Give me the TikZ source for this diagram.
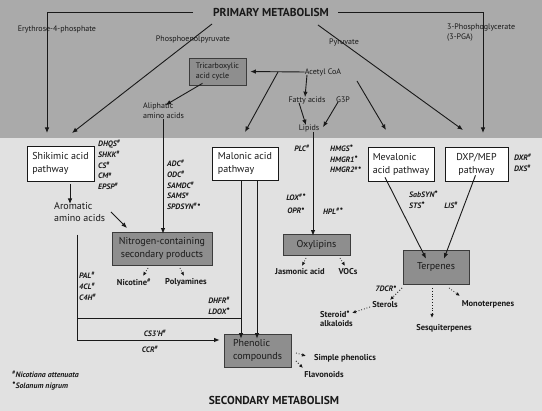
\documentclass[tikz,border=0pt]{standalone}
\usepackage{fontspec}
\setmainfont{PT Sans}
\usetikzlibrary{arrows.meta}
\definecolor{topbg}{RGB}{170,170,170}
\definecolor{lowbg}{RGB}{225,225,225}
\definecolor{boxg}{RGB}{142,142,142}
\definecolor{ink}{RGB}{25,25,25}
\newcommand\hs{\textsuperscript{\#}}
\newcommand\bl{\raisebox{2.6pt}{\fontsize{7.5}{7.5}\selectfont\textbullet}}
\newcommand\sn{\bl}
\newcommand\hsn{\textsuperscript{\#}\bl}
\begin{document}
\begin{tikzpicture}[x=1pt,y=-1pt,
  arr/.style={draw=ink,line width=0.9pt,-{Latex[length=5.5pt,width=4.5pt]}},
  ln/.style={draw=ink,line width=0.9pt},
  dotarr/.style={draw=ink,line width=0.8pt,dotted,-{Latex[length=4pt,width=3.5pt]}},
  lbl/.style={font=\fontsize{8}{9.5}\selectfont,inner sep=0pt,align=left,text=ink},
  biglbl/.style={font=\fontsize{10}{12}\selectfont,inner sep=0pt,align=left,text=ink},
  enz/.style={font=\bfseries\itshape\fontsize{7.8}{10.8}\selectfont,inner sep=0pt,align=left,text=ink},
  prod/.style={font=\bfseries\fontsize{8.5}{9.5}\selectfont,inner sep=0pt,align=left,text=ink},
  titl/.style={font=\bfseries\fontsize{11.5}{13}\selectfont,inner sep=0pt,text=ink},
  wbox/.style={draw=ink,line width=0.7pt,fill=white,font=\fontsize{10}{13}\selectfont,align=left,inner xsep=3pt,inner ysep=0pt,text=ink},
  gbox/.style={draw=ink!85,line width=0.7pt,fill=boxg,font=\fontsize{10}{13}\selectfont,align=center,inner xsep=3pt,inner ysep=0pt,text=ink},
]
\useasboundingbox (0,0) rectangle (542,411);
\fill[lowbg] (0,0) rectangle (542,411);
\fill[topbg] (0,0) rectangle (542,138);

% titles
\node[titl] (pm) at (271,12) {PRIMARY METABOLISM};
\node[titl] (sm) at (274,400) {SECONDARY METABOLISM};

% boxes
\node[wbox,minimum width=67pt,minimum height=35pt] (shik) at (60.5,163.5) {Shikimic acid\\pathway};
\node[wbox,minimum width=66pt,minimum height=33pt] (mal) at (245,163.5) {Malonic acid\\pathway};
\node[wbox,minimum width=66pt,minimum height=34pt] (mev) at (401,164) {Mevalonic\\acid pathway};
\node[wbox,minimum width=63pt,minimum height=34pt,align=center] (dxp) at (476.5,164) {DXP/MEP\\pathway};
\node[gbox,minimum width=57pt,minimum height=27pt,align=left,font=\fontsize{8}{10}\selectfont] (tca) at (217.5,71.5) {Tricarboxylic\\acid cycle};
\node[gbox,minimum width=100pt,minimum height=33pt] (nit) at (162,248.5) {Nitrogen-containing\\secondary products};
\node[gbox,minimum width=67pt,minimum height=21pt] (oxy) at (316.5,244.5) {Oxylipins};
\node[gbox,minimum width=66pt,minimum height=34pt] (terp) at (436,267) {Terpenes};
\node[gbox,minimum width=67pt,minimum height=33pt,align=left] (phen) at (257.5,350.5) {Phenolic\\compounds};

% primary labels
\node[lbl] (e4p) at (57,29) {Erythrose-4-phosphate};
\node[lbl] (pgaL) [anchor=north west] at (447,24) {3-Phosphoglycerate\\(3-PGA)};
\node[lbl] (acoa) at (323,72) {Acetyl CoA};
\node[lbl] (fa) at (307,100) {Fatty acids};
\node[lbl] (g3p) at (343,100) {G3P};
\node[lbl] (lip) at (309,128) {Lipids};
\node[lbl] (aliph) [anchor=north west] at (143,103) {Aliphatic\\amino acids};
\node[biglbl] (arom) [anchor=north west] at (54,202) {Aromatic\\amino acids};

% coordinates for free ends
\coordinate (e4pA) at (193,12);
\coordinate (e4pB) at (47,133);
\coordinate (pgaA) at (338,12);
\coordinate (pgaB) at (483,133);
\coordinate (pepA) at (212,24);
\coordinate (pepB) at (72,133);
\coordinate (pyrA) at (318,25);
\coordinate (pyrB) at (463,130);
\coordinate (malA) at (278,72);
\coordinate (malB) at (245,132);
\coordinate (mevA) at (357,81);
\coordinate (mevB) at (386,130);

\draw[arr] (e4pA) -| (e4pB);
\draw[arr] (pgaA) -| (pgaB);
\draw[arr] (pepA) -- (pepB);
\draw[arr] (pyrA) -- (pyrB);
\node[lbl] (pep) at (193,39) {Phosphoenolpyruvate};
\node[lbl] (pyr) at (344,42) {Pyruvate};

\draw[arr,shorten >=4pt] (acoa.west) -- (tca.east);
\draw[arr] (malA) -- (malB);
\draw[arr] ([xshift=-15pt,yshift=2pt]tca.south) -- ([xshift=2pt,yshift=-2pt]aliph.north);
\draw[arr] ([xshift=-16pt,yshift=1pt]acoa.south) -- ([xshift=-2pt,yshift=-1pt]fa.north);
\draw[arr] ([xshift=-8pt,yshift=1pt]fa.south) -- ([xshift=-3pt,yshift=-1pt]lip.north);
\draw[arr] ([xshift=-5pt,yshift=1pt]g3p.south) -- ([xshift=14pt,yshift=-3pt]lip.north);
\draw[arr] (mevA) -- (mevB);
\draw[arr] (aliph.south -| 163,0) -- ([yshift=-2pt]nit.north -| 163,0);
\draw[arr] (lip.south -| 313,0) -- ([yshift=-2pt]oxy.north -| 313,0);

% secondary connectors
\draw[arr] ([yshift=-3pt]shik.south -| 70,0) -- ([yshift=-2pt]arom.north -| 70,0);
\draw[arr] (111,212) -- (127,228);
\coordinate (aromB) at (77,235);
\coordinate (j2) at (241,318);
\draw[ln] (aromB) |- (j2);
\draw[arr] (aromB) |- ([xshift=-4pt]phen.west |- 0,340);
\draw[arr] (mal.south -| 241,0) -- ([yshift=-5pt]phen.north -| 241,0);
\draw[arr] (mal.south -| 257,0) -- ([yshift=-5pt]phen.north -| 257,0);

\draw[arr] ([xshift=-16pt,yshift=4pt]mev.south) -- ([xshift=-10pt,yshift=-9pt]terp.north);
\draw[arr] ([xshift=-1pt,yshift=6pt]dxp.south) -- ([xshift=8pt,yshift=-9pt]terp.north);

% dotted product arrows
\node[prod] (nico) at (134,282) {Nicotine\hs};
\node[prod] (poly) at (186,282) {Polyamines};
\draw[dotarr] (148,268) -- (143,276);
\draw[dotarr] (180,268) -- (184,276);
\node[prod] (jas) at (300,272) {Jasmonic acid};
\node[prod] (voc) at (348,272) {VOCs};
\draw[dotarr] (306,258) -- (302,266);
\draw[dotarr] (340,258) -- (345,266);
\node[prod] (ster) at (385,305) {Sterols};
\node[prod] (mono) at (488,304) {Monoterpenes};
\node[prod] (sesq) at (444,328) {Sesquiterpenes};
\node[prod] (stal) [anchor=north west] at (320,311) {Steroid\sn\\alkaloids};
\draw[dotarr] (402,288) -- (390,300);
\draw[dotarr] (432,288) -- (432,318);
\draw[dotarr] (449,288) -- (460,296);
\draw[dotarr] (370,307) -- (352,313);
\node[prod] (simp) at (345,358) {Simple phenolics};
\node[prod] (flav) at (324,375) {Flavonoids};
\draw[dotarr] (296,353) -- (306,356);
\draw[dotarr] (296,361) -- (303,368);

% enzymes
\node[enz,anchor=north west] (e1) at (98,140) {DHQS\hs\\SHKK\hs\\CS\hs\\CM\hs\\EPSP\hs};
\node[enz,anchor=north west] (e2) at (167,160) {ADC\hs\\ODC\hs\\SAMDC\hs\\SAMS\hs\\SPDSYN\hsn};
\node[enz,anchor=north west] (e3) at (79,272) {PAL\hs\\4CL\hs\\C4H\hs};
\node[enz,anchor=north east] (e4) at (230,297) {DHFR\hs\\LDOX\sn};
\node[enz,anchor=north west] (e5) at (330,145) {HMGS\sn\\HMGR1\sn\\HMGR2\hsn};
\node[enz,anchor=north west] (e6) at (514,154) {DXR\hs\\DXS\hs};
\node[enz,anchor=north west] (e7) at (409,191) {SabSYN\sn\\STS\sn};
\node[enz] (plc) at (302,148) {PLC\hs};
\node[enz] (lox) at (296,197) {LOX\hsn};
\node[enz] (opr) at (296,211) {OPR\sn};
\node[enz] (hpl) at (333,211) {HPL\hsn};
\node[enz] (lis) at (451,205) {LIS\hs};
\node[enz] (cs3) at (155,333) {CS3'H\hs};
\node[enz] (ccr) at (150,349) {CCR\hs};
\node[enz] (dcr) at (386,289) {7DCR\sn};

% legend
\node[enz,anchor=west] (leg1) at (12,374) {\hs Nicotiana attenuata};
\node[enz,anchor=west] (leg2) at (12,386) {\sn Solanum nigrum};
\end{tikzpicture}
\end{document}
